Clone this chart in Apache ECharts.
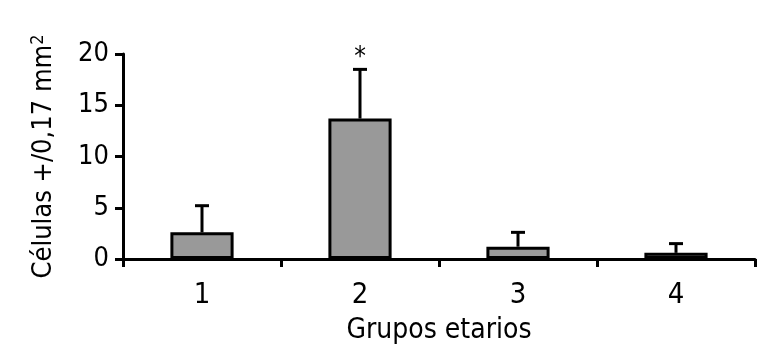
<!DOCTYPE html>
<html>
<head>
<meta charset="utf-8">
<script src="https://cdn.jsdelivr.net/npm/echarts@6/dist/echarts.min.js"></script>
<style>html,body{margin:0;padding:0;background:#fff}#c{width:776px;height:353px}</style>
</head>
<body>
<div id="c"></div>
<script>
const categories = ['1', '2', '3', '4'];
const means = [2.6, 13.7, 1.2, 0.6];
const errorTops = [5.2, 18.5, 2.6, 1.5];
const marks = ['', '*', '', ''];
const yTicks = [0, 5, 10, 15, 20];

const FONT = '"DejaVu Sans Condensed", "Liberation Sans Narrow", sans-serif';
const chart = echarts.init(document.getElementById('c'), null, {renderer: 'canvas'});

chart.setOption({
  animation: false,
  grid: {left: 123, right: 21, top: 54, bottom: 94, containLabel: false},
  xAxis: {
    type: 'category',
    data: categories,
    name: 'Grupos etarios',
    nameLocation: 'middle',
    nameGap: 58,
    nameTextStyle: {fontFamily: FONT, fontSize: 28, color: '#000'},
    axisLine: {lineStyle: {color: '#000', width: 3}},
    axisTick: {show: true, length: 8, lineStyle: {color: '#000', width: 3}},
    axisLabel: {fontFamily: FONT, fontSize: 29, color: '#000', margin: 22}
  },
  yAxis: {
    type: 'value',
    min: 0, max: 20, interval: 5,
    name: '{m|Células +/0,17 mm}{s|2}',
    nameLocation: 'middle',
    nameGap: 64,
    nameRotate: 90,
    nameTextStyle: {
      rich: {
        m: {fontFamily: FONT, fontSize: 27, color: '#000'},
        s: {fontFamily: FONT, fontSize: 18, color: '#000', verticalAlign: 'top', padding: [0, 0, 12, 0]}
      }
    },
    splitLine: {show: false},
    axisLine: {show: true, lineStyle: {color: '#000', width: 3}},
    axisTick: {show: true, length: 8, lineStyle: {color: '#000', width: 3}},
    axisLabel: {fontFamily: FONT, fontSize: 27, color: '#000', margin: 14,
      formatter: v => yTicks.includes(v) ? String(v) : ''}
  },
  series: [
    {
      type: 'bar',
      data: means,
      barWidth: '40%',
      itemStyle: {color: '#999999', borderColor: '#000', borderWidth: 3},
      z: 2
    },
    {
      type: 'custom',
      z: 3,
      data: categories.map((c, i) => [i, means[i], errorTops[i], marks[i]]),
      renderItem: function (params, api) {
        const x = api.value(0);
        const lo = api.coord([x, api.value(1)]);
        const hi = api.coord([x, api.value(2)]);
        const capHalf = 7;
        const children = [
          {type: 'line', shape: {x1: lo[0], y1: lo[1], x2: hi[0], y2: hi[1]}, style: {stroke: '#000', lineWidth: 3}},
          {type: 'line', shape: {x1: hi[0] - capHalf, y1: hi[1], x2: hi[0] + capHalf, y2: hi[1]}, style: {stroke: '#000', lineWidth: 3}}
        ];
        const mk = api.value(3);
        if (mk && mk !== '-' ) {
          children.push({type: 'text', style: {text: String(mk), x: hi[0], y: hi[1] + 2, align: 'center', verticalAlign: 'bottom', font: '26px ' + FONT, fill: '#000'}});
        }
        return {type: 'group', children: children};
      }
    }
  ]
});
</script>
</body>
</html>
